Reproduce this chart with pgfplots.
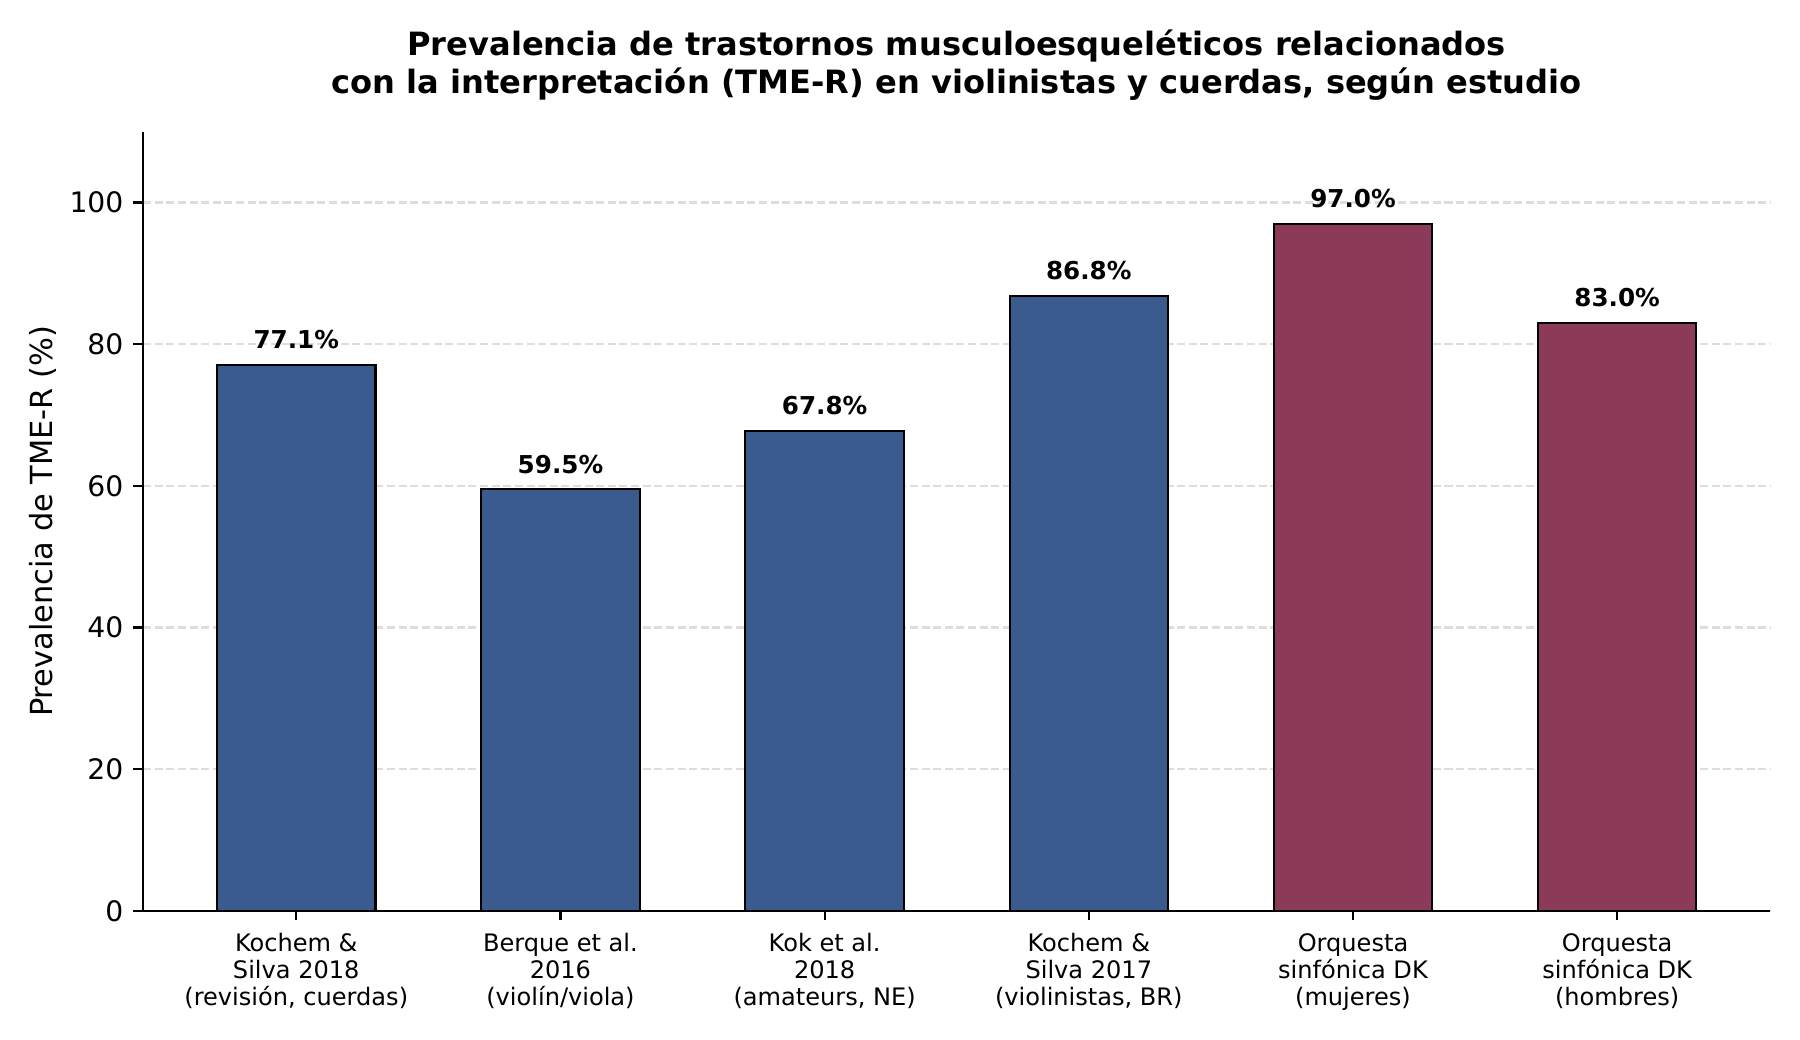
\documentclass[border=0pt]{standalone}
\usepackage{pgfplots}
\pgfplotsset{compat=1.18}
\usepackage{fontspec}
\setmainfont{DejaVu Sans}
\definecolor{barblue}{HTML}{3B5B8F}
\definecolor{barred}{HTML}{8B3A5A}
\definecolor{gridgray}{HTML}{DDDDDD}
\newcommand{\tlstrut}{\rule{0pt}{0.76em}}

\begin{document}
\begin{tikzpicture}
\begin{axis}[
  name=ax, at={(0,0)}, anchor=south west,
  scale only axis, width=588.2pt, height=281.6pt,
  xmin=-0.58, xmax=5.58, ymin=0, ymax=110,
  axis lines=left, axis line style={-, line width=0.8pt, black},
  xtick={0,1,2,3,4,5},
  xticklabels={{\tlstrut Kochem \&\\Silva 2018\\(revisión, cuerdas)},{\tlstrut Berque et al.\\2016\\(violín/viola)},{\tlstrut Kok et al.\\2018\\(amateurs, NE)},{\tlstrut Kochem \&\\Silva 2017\\(violinistas, BR)},{\tlstrut Orquesta\\sinfónica DK\\(mujeres)},{\tlstrut Orquesta\\sinfónica DK\\(hombres)}},
  ytick={0,20,40,60,80,100},
  tick align=outside, major tick length=3.5pt,
  tick style={line width=0.8pt, black},
  ymajorgrids, grid style={gridgray, line width=0.75pt, dash pattern=on 2.9pt off 1.3pt},
  xticklabel style={font=\fontsize{8.7}{9.87}\selectfont, align=center, anchor=north, inner sep=0pt, yshift=-4.3pt},
  yticklabel style={font=\fontsize{10.2}{12}\selectfont, anchor=east, inner sep=0pt, xshift=-3.4pt},
  /pgf/number format/assume math mode=true,
  nodes near coords={\pgfmathprintnumber[fixed,fixed zerofill,precision=1]{\pgfplotspointmeta}\%},
  every node near coord/.append style={font=\bfseries\fontsize{8.9}{10.6}\selectfont, anchor=south, inner sep=0pt, yshift=5.4pt, black},
  clip=false,
]
\addplot[ybar, bar shift=0pt, bar width=0.6, fill=barblue, draw=black, line width=0.75pt] coordinates {(0,77.1) (1,59.5) (2,67.8) (3,86.8)};
\addplot[ybar, bar shift=0pt, bar width=0.6, fill=barred, draw=black, line width=0.75pt] coordinates {(4,97.0) (5,83.0)};
\end{axis}
\node[rotate=90, anchor=base, inner sep=0pt, font=\fontsize{11}{13}\selectfont] at (-32.8pt,140.8pt) {Prevalencia de TME-R (\%)};
\node[anchor=base, inner sep=0pt, font=\bfseries\fontsize{11.6}{14}\selectfont] at (294.1pt,309pt) {Prevalencia de trastornos musculoesqueléticos relacionados};
\node[anchor=base, inner sep=0pt, font=\bfseries\fontsize{11.6}{14}\selectfont] at (294.1pt,295.5pt) {con la interpretación (TME-R) en violinistas y cuerdas, según estudio};
\pgfresetboundingbox
\path[use as bounding box] (-51.7pt,-46.6pt) rectangle (598.9pt,329.2pt);
\end{tikzpicture}
\end{document}
